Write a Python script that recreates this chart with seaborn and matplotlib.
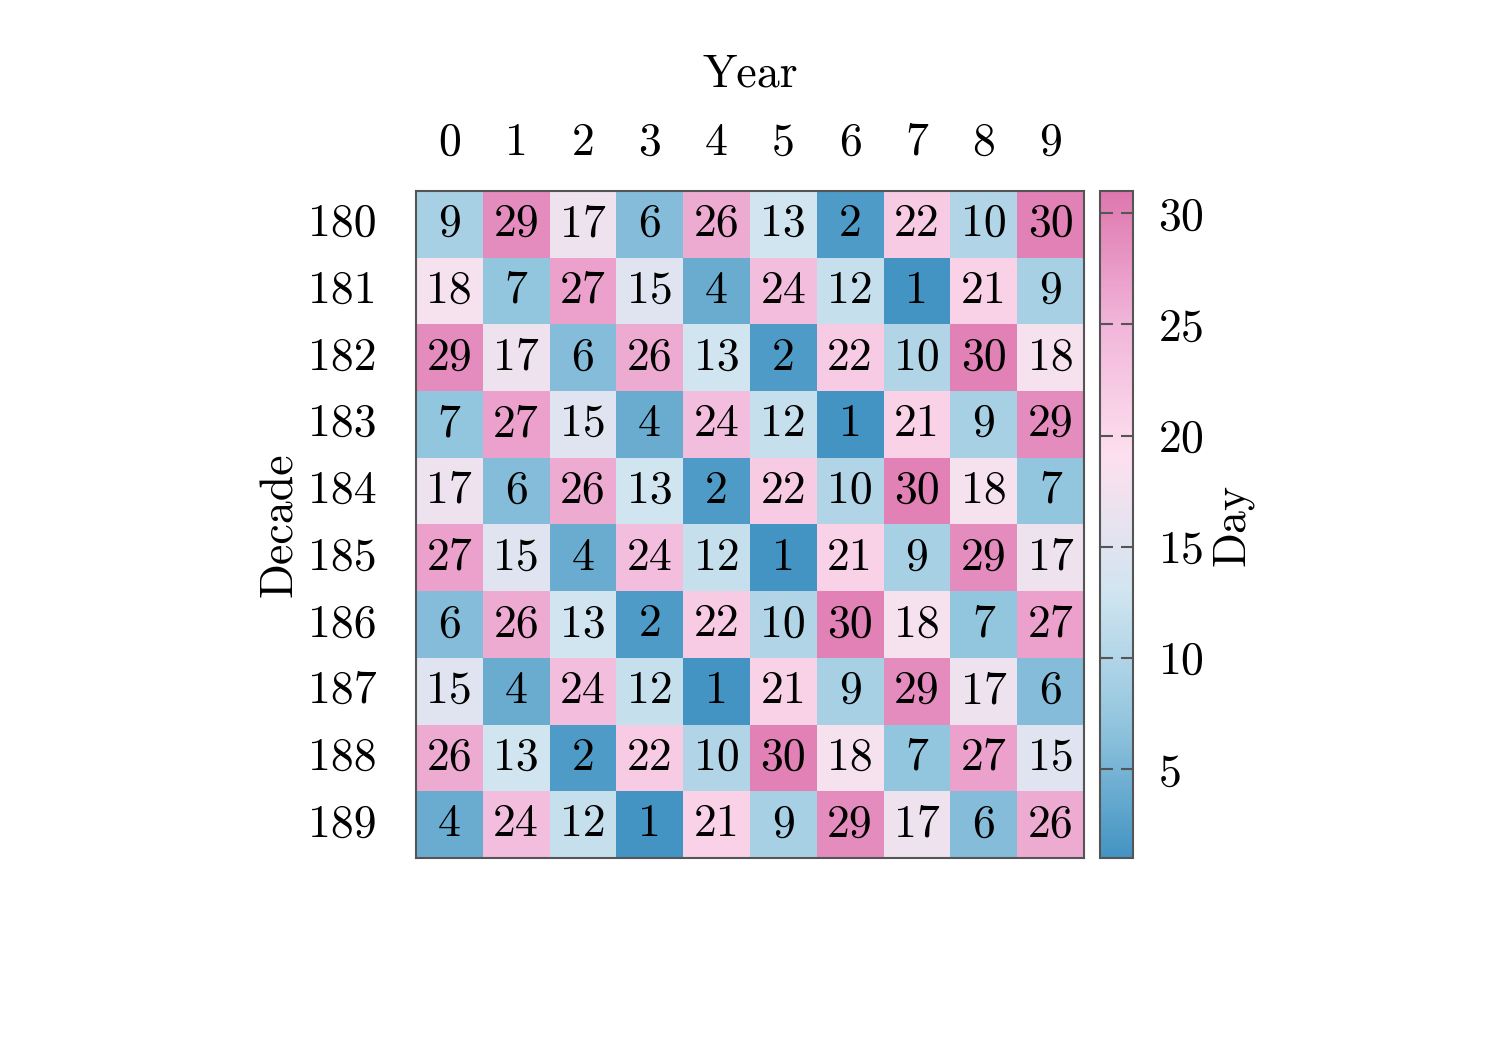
import numpy as np
import pandas as pd
import seaborn as sns
import matplotlib.pyplot as plt
from matplotlib.colors import LinearSegmentedColormap

years = [0, 1, 2, 3, 4, 5, 6, 7, 8, 9]
decades = [180, 181, 182, 183, 184, 185, 186, 187, 188, 189]
days = [
    [9, 29, 17, 6, 26, 13, 2, 22, 10, 30],
    [18, 7, 27, 15, 4, 24, 12, 1, 21, 9],
    [29, 17, 6, 26, 13, 2, 22, 10, 30, 18],
    [7, 27, 15, 4, 24, 12, 1, 21, 9, 29],
    [17, 6, 26, 13, 2, 22, 10, 30, 18, 7],
    [27, 15, 4, 24, 12, 1, 21, 9, 29, 17],
    [6, 26, 13, 2, 22, 10, 30, 18, 7, 27],
    [15, 4, 24, 12, 1, 21, 9, 29, 17, 6],
    [26, 13, 2, 22, 10, 30, 18, 7, 27, 15],
    [4, 24, 12, 1, 21, 9, 29, 17, 6, 26],
]
cbar_ticks = [5, 10, 15, 20, 25, 30]

sns.set_style("white")
plt.rcParams['font.family'] = ['cmr10', 'DejaVu Serif']
plt.rcParams['mathtext.fontset'] = 'cm'
plt.rcParams['axes.formatter.use_mathtext'] = True
for k in ['text.color', 'axes.labelcolor', 'xtick.labelcolor', 'ytick.labelcolor']:
    plt.rcParams[k] = 'black'

df = pd.DataFrame(days, index=decades, columns=years)
cmap = LinearSegmentedColormap.from_list(
    "bp", ["#4393c3", "#92c5de", "#d1e5f0", "#fde0ef", "#f1b6da", "#de77ae"])

fig = plt.figure(figsize=(10, 7), dpi=150)
ax = fig.add_axes([0.2773, 0.1829, 0.4453, 0.6352])
cax = fig.add_axes([0.7333, 0.1829, 0.022, 0.6352])

fs = 22
sns.heatmap(df, ax=ax, cbar_ax=cax, cmap=cmap, vmin=1, vmax=31,
            annot=True, fmt='d', annot_kws={'fontsize': fs, 'color': 'black'},
            cbar_kws={'ticks': cbar_ticks})

ax.xaxis.tick_top()
ax.xaxis.set_label_position('top')
ax.tick_params(axis='both', length=0, labelsize=fs, labelcolor='black')
ax.tick_params(axis='x', pad=13)
ax.tick_params(axis='y', pad=19, rotation=0)
ax.set_xlabel("Year", fontsize=fs, labelpad=17)
ax.set_ylabel("Decade", fontsize=fs, labelpad=3)
for s in ax.spines.values():
    s.set_visible(True)
    s.set_color('#555555')
    s.set_linewidth(1)

cbar = ax.collections[0].colorbar
cbar.outline.set_edgecolor('#555555')
cbar.outline.set_linewidth(1)
cax.set_axisbelow(False)
cax.tick_params(axis='y', which='major', direction='in', left=True, right=True,
                length=6, width=1, color='#555555', labelsize=fs, pad=12,
                labelcolor='black')
cax.tick_params(axis='y', which='minor', length=0)
for t in cax.yaxis.get_major_ticks():
    t.tick1line.set_zorder(5)
    t.tick2line.set_zorder(5)
cax.set_ylabel("Day", fontsize=fs, rotation=90)
cax.yaxis.set_label_coords(3.4, 0.5)

fig.savefig("out.png", dpi=150)
